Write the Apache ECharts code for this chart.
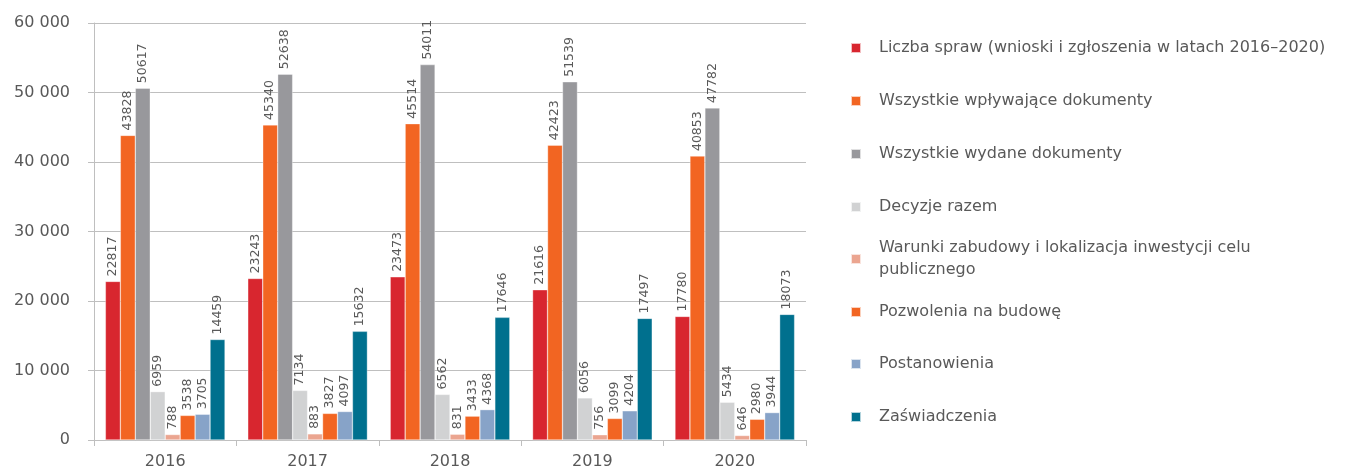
<!DOCTYPE html>
<html>
<head>
<meta charset="utf-8">
<script src="https://cdn.jsdelivr.net/npm/echarts@6/dist/echarts.min.js"></script>
<style>
    html, body { margin: 0; padding: 0; background: #fff; }
    #chart { width: 1351px; height: 471px; }
</style>
</head>
<body>
<div id="chart"></div>
<script>
const years = ['2016', '2017', '2018', '2019', '2020'];
const seriesNames = [
    'Liczba spraw (wnioski i zgłoszenia w latach 2016–2020)',
    'Wszystkie wpływające dokumenty',
    'Wszystkie wydane dokumenty',
    'Decyzje razem',
    'Warunki zabudowy i lokalizacja inwestycji celu\npublicznego',
    'Pozwolenia na budowę',
    'Postanowienia',
    'Zaświadczenia'
];
const liczbaSpraw = [22817, 23243, 23473, 21616, 17780];
const wplywajace = [43828, 45340, 45514, 42423, 40853];
const wydane = [50617, 52638, 54011, 51539, 47782];
const decyzje = [6959, 7134, 6562, 6056, 5434];
const warunki = [788, 883, 831, 756, 646];
const pozwolenia = [3538, 3827, 3433, 3099, 2980];
const postanowienia = [3705, 4097, 4368, 4204, 3944];
const zaswiadczenia = [14459, 15632, 17646, 17497, 18073];
const yTicks = [0, 10000, 20000, 30000, 40000, 50000, 60000];

const values = [liczbaSpraw, wplywajace, wydane, decyzje, warunki, pozwolenia, postanowienia, zaswiadczenia];
const colors = ['#D8262F', '#F26522', '#98989C', '#D1D2D3', '#EBA590', '#F26522', '#87A3C8', '#00708E'];
const textColor = '#595959';
const font = 'DejaVu Sans';

// one legend per item so the two-line entry does not push the others down
const legendCenters = [48, 101, 154, 207, 259, 312, 364, 417];
const legends = seriesNames.map(function (name, i) {
    const twoLines = name.indexOf('\n') >= 0;
    return {
        orient: 'vertical',
        left: 850,
        top: twoLines ? legendCenters[i] - 33 : legendCenters[i] - 11,
        padding: 0,
        itemWidth: 10,
        itemHeight: 10,
        icon: 'rect',
        selectedMode: false,
        data: [name],
        textStyle: {
            color: textColor,
            fontFamily: font,
            fontSize: 16,
            lineHeight: 22,
            padding: twoLines ? [22, 0, 0, 13] : [0, 0, 0, 13]
        }
    };
});

const option = {
    animation: false,
    color: colors,
    grid: {
        left: 94,
        right: 545,
        top: 23,
        bottom: 31,
        containLabel: false
    },
    legend: legends,
    xAxis: {
        type: 'category',
        data: years,
        axisLine: { lineStyle: { color: '#bfbfbf' } },
        axisTick: { show: true, length: 6, lineStyle: { color: '#bfbfbf' } },
        axisLabel: {
            color: textColor,
            fontFamily: font,
            fontSize: 16,
            margin: 14
        }
    },
    yAxis: {
        type: 'value',
        min: yTicks[0],
        max: yTicks[yTicks.length - 1],
        interval: 10000,
        axisLine: { show: true, lineStyle: { color: '#bfbfbf' } },
        axisTick: { show: true, length: 6, lineStyle: { color: '#bfbfbf' } },
        splitLine: { lineStyle: { color: '#bfbfbf' } },
        axisLabel: {
            color: textColor,
            fontFamily: font,
            fontSize: 16,
            margin: 24,
            formatter: function (v) {
                return String(v).replace(/\B(?=(\d{3})+(?!\d))/g, ' ');
            }
        }
    },
    series: seriesNames.map(function (name, i) {
        return {
            name: name,
            type: 'bar',
            data: values[i],
            barGap: 0,
            barCategoryGap: '16%',
            itemStyle: {
                color: colors[i],
                borderColor: 'rgba(255,255,255,0.7)',
                borderWidth: 0.5
            },
            label: {
                show: true,
                position: 'top',
                rotate: 90,
                align: 'left',
                verticalAlign: 'middle',
                distance: 5,
                color: textColor,
                fontFamily: font,
                fontSize: 12.5
            }
        };
    })
};

const chart = echarts.init(document.getElementById('chart'));
chart.setOption(option);
window.addEventListener('resize', function () {
    chart.resize();
});
</script>
</body>
</html>
